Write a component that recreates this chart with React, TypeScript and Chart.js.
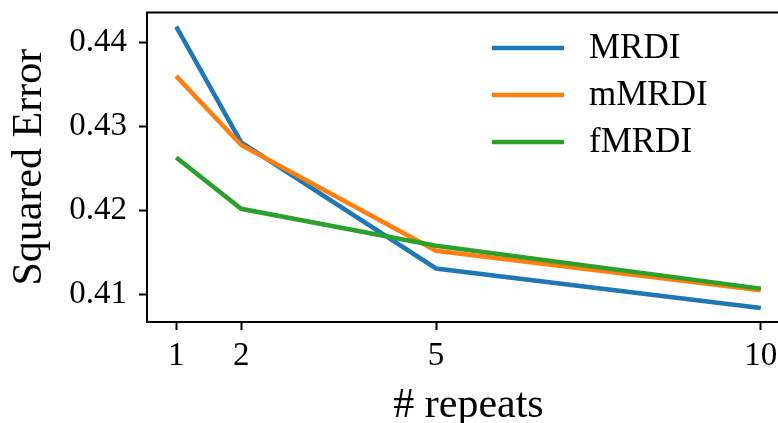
import React, { useEffect, useRef } from "react";
import { Chart, registerables } from "chart.js";

Chart.register(...registerables);

const repeats = [1, 2, 5, 10];
const xTicks = [1, 2, 5, 10];
const yTicks = [0.41, 0.42, 0.43, 0.44];
const seriesNames = ["MRDI", "mMRDI", "fMRDI"];
const mrdi = [0.4419, 0.4281, 0.4131, 0.4084];
const mmrdi = [0.436, 0.4278, 0.4152, 0.4105];
const fmrdi = [0.4263, 0.4202, 0.4158, 0.4107];
const colors = ["#1f77b4", "#ff7f0e", "#2ca02c"];

const FONT = "'Liberation Serif', 'Times New Roman', serif";

const allY = [...mrdi, ...mmrdi, ...fmrdi];
const yMinData = Math.min(...allY);
const yMaxData = Math.max(...allY);
const yMargin = (yMaxData - yMinData) * 0.05;
const xMargin = (repeats[repeats.length - 1] - repeats[0]) * 0.05;

const framePlugin = {
  id: "frameAndLegend",
  afterDraw(chart: any) {
    const { ctx, chartArea } = chart;
    ctx.save();
    ctx.strokeStyle = "#000";
    ctx.lineWidth = 2;
    ctx.strokeRect(chartArea.left, chartArea.top, chartArea.right - chartArea.left, chartArea.bottom - chartArea.top);
    // legend
    const x0 = chartArea.right - 298;
    const y0 = chartArea.top + 35.5;
    const step = 47;
    chart.data.datasets.forEach((ds: any, i: number) => {
      const y = y0 + i * step;
      ctx.strokeStyle = ds.borderColor;
      ctx.lineWidth = 4.5;
      ctx.lineCap = "butt";
      ctx.beginPath();
      ctx.moveTo(x0, y);
      ctx.lineTo(x0 + 72, y);
      ctx.stroke();
      ctx.fillStyle = "#000";
      ctx.font = `35px ${FONT}`;
      ctx.textAlign = "left";
      ctx.textBaseline = "middle";
      ctx.fillText(ds.label, x0 + 97, y + 1);
    });
    ctx.restore();
  },
};

export default function App() {
  const ref = useRef<HTMLCanvasElement>(null);
  useEffect(() => {
    if (!ref.current) return;
    const chart = new Chart(ref.current, {
      type: "line",
      data: {
        datasets: [mrdi, mmrdi, fmrdi].map((vals, i) => ({
          label: seriesNames[i],
          data: repeats.map((x, j) => ({ x, y: vals[j] })),
          borderColor: colors[i],
          backgroundColor: colors[i],
          borderWidth: 4.5,
          pointRadius: 0,
          tension: 0,
          fill: false,
          order: 3 - i,
        })),
      },
      options: {
        animation: false,
        responsive: false,
        devicePixelRatio: 1,
        layout: { padding: { top: 12.5, right: 2, left: 0, bottom: 0 } },
        plugins: { legend: { display: false }, tooltip: { enabled: false } },
        scales: {
          x: {
            type: "linear",
            min: repeats[0] - xMargin,
            max: repeats[repeats.length - 1] + xMargin,
            afterBuildTicks: (s: any) => {
              s.ticks = xTicks.map((v) => ({ value: v }));
            },
            afterFit: (s: any) => {
              s.height = 101;
              s.paddingLeft = 0;
              s.paddingRight = 0;
            },
            grid: { drawOnChartArea: false, drawTicks: true, tickLength: 8, tickColor: "#000", tickWidth: 2 },
            border: { display: false },
            ticks: {
              color: "#000",
              font: { family: FONT, size: 33 },
              padding: 7,
              maxRotation: 0,
              autoSkip: false,
              callback: (v: any) => String(v),
            },
            title: {
              display: true,
              text: "# repeats",
              color: "#000",
              font: { family: FONT, size: 42 },
              padding: { top: 0, bottom: -8 },
            },
          },
          y: {
            type: "linear",
            min: yMinData - yMargin,
            max: yMaxData + yMargin,
            afterBuildTicks: (s: any) => {
              s.ticks = yTicks.map((v) => ({ value: v }));
            },
            afterFit: (s: any) => {
              s.width = 147;
              s.paddingTop = 0;
              s.paddingBottom = 0;
            },
            grid: { drawOnChartArea: false, drawTicks: true, tickLength: 8, tickColor: "#000", tickWidth: 2 },
            border: { display: false },
            ticks: {
              color: "#000",
              font: { family: FONT, size: 33 },
              padding: 12,
              autoSkip: false,
              callback: (v: any) => Number(v).toFixed(2),
            },
            title: {
              display: true,
              text: "Squared Error",
              color: "#000",
              font: { family: FONT, size: 42 },
              padding: { top: 5, bottom: 0 },
            },
          },
        },
      },
      plugins: [framePlugin],
    });
    return () => chart.destroy();
  }, []);
  return (
    <div style={{ position: "fixed", left: 0, top: 0, width: 778, height: 423, overflow: "hidden", background: "#fff" }}>
      <canvas ref={ref} width={792} height={423} style={{ display: "block" }} />
    </div>
  );
}
